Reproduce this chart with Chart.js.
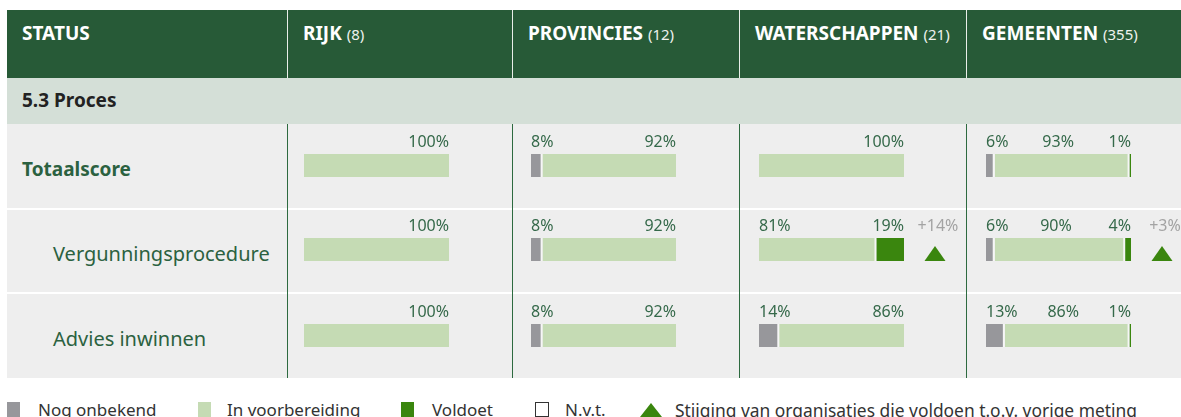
<!DOCTYPE html>
<html>
<head>
  <meta charset="UTF-8">
  <title>Status 5.3 Proces</title>
  <script src="https://cdn.jsdelivr.net/npm/chart.js"></script>
  <style>
    body { margin: 0; background: #fff; font-family: 'Noto Sans', sans-serif; }
    #wrap { position: relative; width: 1181px; height: 417px; overflow: hidden; }
    .abs { position: absolute; }
    .hd { background: #275a37; left: 7px; top: 10px; width: 1174px; height: 68px; }
    .hdtxt { color: #fff; font-weight: bold; font-size: 19px; top: 20px; white-space: nowrap; }
    .hdtxt span { font-weight: normal; font-size: 15px; color: #eef2ee; }
    .sec { background: #d4dfd7; left: 7px; top: 78px; width: 1174px; height: 46px; }
    .row { background: #eeeeee; left: 7px; width: 1174px; }
    .lbl { color: #2b6140; white-space: nowrap; }
    .vline { background: #2d6a3f; width: 1px; top: 124px; height: 254px; }
    .hline { background: #e9eee9; width: 1px; top: 10px; height: 68px; }
    .leg { top: 398px; font-size: 17px; color: #333; white-space: nowrap; }
    .sw { position: absolute; top: 4px; width: 13px; height: 15px; }
  </style>
</head>
<body>
<div id="wrap"></div>

<script>
  // data
  const groups = ['RIJK', 'PROVINCIES', 'WATERSCHAPPEN', 'GEMEENTEN'];
  const groupCounts = [8, 12, 21, 355];
  const categories = ['Totaalscore', 'Vergunningsprocedure', 'Advies inwinnen'];
  const statusLabels = ['Nog onbekend', 'In voorbereiding', 'Voldoet'];
  // per group: values per category
  const nogOnbekend     = [[0, 0, 0], [8, 8, 8], [0, 0, 14], [6, 6, 13]];
  const inVoorbereiding = [[100, 100, 100], [92, 92, 92], [100, 81, 86], [93, 90, 86]];
  const voldoet         = [[0, 0, 0], [0, 0, 0], [0, 19, 0], [1, 4, 1]];
  const stijging        = [[null, null, null], [null, null, null], [null, 14, null], [null, 3, null]];

  const colors = ['#97979b', '#c5dbb4', '#3a860e'];

  // layout
  const colX = [287, 512, 739, 966, 1181];
  const barLeft = [304, 531, 759, 986];
  const barW = 145, barH = 23;
  const rows = [[124, 208, 30], [210, 292, 28], [294, 378, 30]];

  const wrap = document.getElementById('wrap');
  function add(cls, css, html) {
    const d = document.createElement('div');
    d.className = 'abs ' + cls;
    Object.assign(d.style, css);
    if (html) d.innerHTML = html;
    wrap.appendChild(d);
    return d;
  }

  // table background
  add('hd', {});
  add('hdtxt', { left: '22px' }, 'STATUS');
  groups.forEach((g, i) => {
    add('hdtxt', { left: (colX[i] + 16) + 'px' }, g + ' <span>(' + groupCounts[i] + ')</span>');
    add('hline', { left: colX[i] + 'px' });
  });
  add('sec', {});
  add('', { left: '22px', top: '87px', fontWeight: 'bold', fontSize: '19px', color: '#222' }, '5.3 Proces');
  rows.forEach((r, i) => {
    add('row', { top: r[0] + 'px', height: (r[1] - r[0]) + 'px' });
    const bold = i === 0;
    add('lbl', {
      left: bold ? '22px' : '53px', top: (r[0] + (r[1] - r[0]) / 2 - 11) + 'px',
      fontSize: bold ? '19px' : '20px', fontWeight: bold ? 'bold' : 'normal', lineHeight: '28px'
    }, categories[i]);
  });
  for (let i = 0; i < 4; i++) add('vline', { left: colX[i] + 'px' });

  // labels above the bars, plus the rise marker
  const barLabels = {
    id: 'barLabels',
    afterDatasetsDraw(chart, args, opts) {
      const ctx = chart.ctx;
      const area = chart.chartArea;
      const segs = [];
      chart.data.datasets.forEach((ds, i) => {
        const v = ds.data[0];
        if (v > 0) segs.push({ v: v, el: chart.getDatasetMeta(i).data[0] });
      });
      const y = area.top - 12;
      ctx.save();
      ctx.font = '16px "Noto Sans"';
      ctx.fillStyle = '#35694a';
      ctx.textBaseline = 'middle';
      segs.forEach((s, k) => {
        const x0 = Math.min(s.el.base, s.el.x), x1 = Math.max(s.el.base, s.el.x);
        let x;
        if (segs.length === 1 || k === segs.length - 1) { ctx.textAlign = 'right'; x = x1; }
        else if (k === 0) { ctx.textAlign = 'left'; x = x0; }
        else { ctx.textAlign = 'center'; x = (x0 + x1) / 2 - 4; }
        ctx.fillText(s.v + '%', x, y);
      });
      if (opts.delta != null) {
        const cx = area.right + 31;
        ctx.fillStyle = '#3a860e';
        ctx.beginPath();
        ctx.moveTo(cx - 10.5, area.bottom);
        ctx.lineTo(cx + 10.5, area.bottom);
        ctx.lineTo(cx, area.bottom - 15);
        ctx.closePath();
        ctx.fill();
        ctx.fillStyle = '#a3a3a3';
        ctx.textAlign = 'center';
        ctx.fillText('+' + opts.delta + '%', area.right + 34, y);
      }
      ctx.restore();
    }
  };

  const series = [nogOnbekend, inVoorbereiding, voldoet];

  for (let g = 0; g < groups.length; g++) {
    rows.forEach((r, c) => {
      const left = colX[g] + 1, w = colX[g + 1] - colX[g] - 1, h = r[1] - r[0];
      const cv = document.createElement('canvas');
      cv.width = w; cv.height = h;
      cv.style.position = 'absolute';
      cv.style.left = left + 'px';
      cv.style.top = r[0] + 'px';
      wrap.appendChild(cv);

      const vals = series.map(s => s[g][c]);
      new Chart(cv, {
        type: 'bar',
        data: {
          labels: [categories[c]],
          datasets: statusLabels.map((lab, i) => ({
            label: lab,
            data: [vals[i]],
            backgroundColor: colors[i],
            borderColor: '#f6f6f6',
            borderSkipped: false,
            inflateAmount: 0,
            borderWidth: {
              top: 0, bottom: 0, left: 0,
              right: vals.slice(i + 1).some(v => v > 0) && vals[i] > 0 ? 2 : 0
            }
          }))
        },
        options: {
          indexAxis: 'y',
          responsive: false,
          animation: false,
          devicePixelRatio: 1,
          layout: {
            padding: {
              left: barLeft[g] - left,
              right: w - (barLeft[g] - left) - barW,
              top: r[2],
              bottom: h - r[2] - barH
            }
          },
          datasets: { bar: { categoryPercentage: 1, barPercentage: 1 } },
          scales: {
            x: { stacked: true, min: 0, max: 100, display: false },
            y: { stacked: true, display: false }
          },
          plugins: {
            legend: { display: false },
            tooltip: { enabled: false },
            barLabels: { delta: stijging[g][c] }
          }
        },
        plugins: [barLabels]
      });
    });
  }

  // legend
  const legendItems = [
    { x: 7, text: 'Nog onbekend', color: colors[0], tx: 31 },
    { x: 198, text: 'In voorbereiding', color: colors[1], tx: 29 },
    { x: 401, text: 'Voldoet', color: colors[2], tx: 31 }
  ];
  legendItems.forEach(it => {
    const d = add('leg', { left: it.x + 'px' });
    const s = document.createElement('div');
    s.className = 'sw';
    s.style.background = it.color;
    d.appendChild(s);
    const t = document.createElement('span');
    t.style.marginLeft = it.tx + 'px';
    t.textContent = it.text;
    d.appendChild(t);
  });
  add('leg', { left: '535px' }, '<div class="sw" style="width:12px;height:13px;border:1px solid #333;background:#fff"></div><span style="margin-left:30px">N.v.t.</span>');
  add('leg', { left: '640px', fontSize: '17.4px' }, '<div class="sw" style="width:0;height:0;top:5px;border-left:11px solid transparent;border-right:11px solid transparent;border-bottom:14px solid #3a860e"></div><span style="margin-left:35px">Stijging van organisaties die voldoen t.o.v. vorige meting</span>');
</script>
</body>
</html>
